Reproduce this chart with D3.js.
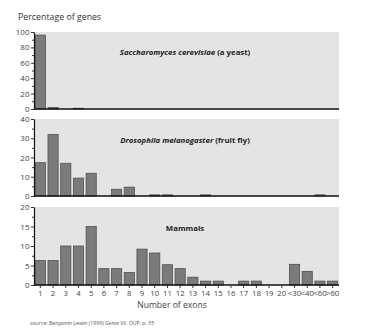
<!DOCTYPE html>
<html>
<head>
<meta charset="utf-8">
<script src="https://cdn.jsdelivr.net/npm/d3@7"></script>
<style>
  html, body { margin: 0; padding: 0; background: #fff; }
  svg { display: block; font-family: "Open Sans", "Liberation Sans", sans-serif; }
</style>
</head>
<body>
<svg id="chart" width="366" height="336"></svg>
<script>
// Exon-count categories shared by all three panels
const categories = ["1","2","3","4","5","6","7","8","9","10","11","12","13","14","15","16","17","18","19","20","<30","<40","<60",">60"];

// Percentage of genes per exon count
const yeastValues = [96, 2, 0, 1, 0, 0, 0, 0, 0, 0, 0, 0, 0, 0, 0, 0, 0, 0, 0, 0, 0, 0, 0, 0];
const flyValues   = [17.3, 32, 17, 9.3, 11.8, 0, 3.5, 4.6, 0, 0.6, 0.6, 0, 0, 0.6, 0, 0, 0, 0, 0, 0, 0, 0, 0.6, 0];
const mammalValues = [6.3, 6.3, 10, 10, 15, 4.2, 4.2, 3.2, 9.2, 8.2, 5.2, 4.2, 2, 1, 1, 0, 1, 1, 0, 0, 5.3, 3.5, 1, 1];

// Y tick labels for each panel
const yeastTicks = [0, 20, 40, 60, 80, 100];
const flyTicks = [0, 10, 20, 30, 40];
const mammalTicks = [0, 5, 10, 15, 20];

const panels = [
  { values: yeastValues, ticks: yeastTicks, max: 100, top: 32, bottom: 109,
    title: [["Saccharomyces cerevisiae", "italic"], [" (a yeast)", "normal"]], titleY: 55 },
  { values: flyValues, ticks: flyTicks, max: 40, top: 119, bottom: 196,
    title: [["Drosophila melanogaster", "italic"], [" (fruit fly)", "normal"]], titleY: 143 },
  { values: mammalValues, ticks: mammalTicks, max: 20, top: 207, bottom: 285,
    title: [["Mammals", "normal"]], titleY: 231 }
];

const svg = d3.select("#chart");
const left = 34, right = 339;

const x = d3.scaleBand()
  .domain(categories)
  .range([left, right])
  .paddingInner(0.2)
  .paddingOuter(0.1);

svg.append("text")
  .attr("x", 18).attr("y", 20)
  .attr("font-size", 8.8).attr("fill", "#333")
  .text("Percentage of genes");

panels.forEach((p, i) => {
  const y = d3.scaleLinear().domain([0, p.max]).range([p.bottom, p.top]);
  const g = svg.append("g");

  // panel background
  g.append("rect")
    .attr("x", left).attr("y", p.top)
    .attr("width", right - left).attr("height", p.bottom - p.top)
    .attr("fill", "#e4e4e4");

  // bars
  g.selectAll("rect.bar")
    .data(p.values.map((v, j) => ({ c: categories[j], v })).filter(d => d.v > 0))
    .join("rect")
    .attr("class", "bar")
    .attr("x", d => x(d.c))
    .attr("width", x.bandwidth())
    .attr("y", d => y(d.v))
    .attr("height", d => y(0) - y(d.v))
    .attr("fill", "#7b7b7b")
    .attr("stroke", "#505050")
    .attr("stroke-width", 0.8);

  // y axis with minor ticks between labels
  const step = p.ticks[1] - p.ticks[0];
  const minor = d3.range(step / 2, p.max, step);
  g.append("g")
    .attr("transform", `translate(${left},0)`)
    .call(d3.axisLeft(y).tickValues(minor).tickSize(2).tickFormat(""))
    .call(s => s.select(".domain").remove())
    .selectAll("line").attr("stroke", "#333");

  const ya = g.append("g")
    .attr("transform", `translate(${left},0)`)
    .call(d3.axisLeft(y).tickValues(p.ticks).tickSize(3).tickPadding(1.5).tickSizeOuter(0));
  ya.select(".domain").attr("stroke", "#111").attr("stroke-width", 1.2);
  ya.selectAll(".tick line").attr("stroke", "#333");
  ya.selectAll(".tick text")
    .attr("font-size", 8).attr("fill", "#444")
    .attr("font-family", "'Open Sans', sans-serif");

  // baseline
  g.append("line")
    .attr("x1", left).attr("x2", right)
    .attr("y1", y(0)).attr("y2", y(0))
    .attr("stroke", "#111").attr("stroke-width", 1.3);

  // panel title
  const t = g.append("text")
    .attr("x", 185).attr("y", p.titleY)
    .attr("text-anchor", "middle")
    .attr("font-size", 7.8).attr("font-weight", "bold").attr("fill", "#222");
  p.title.forEach(([s, style]) => t.append("tspan").attr("font-style", style).text(s));

  // category axis under the last panel
  if (i === panels.length - 1) {
    const xa = g.append("g")
      .attr("transform", `translate(0,${y(0)})`)
      .call(d3.axisBottom(x).tickSize(3).tickPadding(2).tickSizeOuter(0));
    xa.select(".domain").remove();
    xa.selectAll(".tick line").attr("stroke", "#333");
    xa.selectAll(".tick text")
      .attr("font-size", 7.8).attr("fill", "#444")
      .attr("font-family", "'Open Sans', sans-serif");
  }
});

svg.append("text")
  .attr("x", 172).attr("y", 308)
  .attr("text-anchor", "middle")
  .attr("font-size", 8.6).attr("fill", "#444")
  .text("Number of exons");

const src = svg.append("text")
  .attr("x", 30).attr("y", 325)
  .attr("font-size", 5.2).attr("fill", "#555");
src.append("tspan").text("source: Benjamin Lewin (1999) ");
src.append("tspan").attr("font-style", "italic").text("Genes VII");
src.append("tspan").text(", OUP, p. 55");
</script>
</body>
</html>
